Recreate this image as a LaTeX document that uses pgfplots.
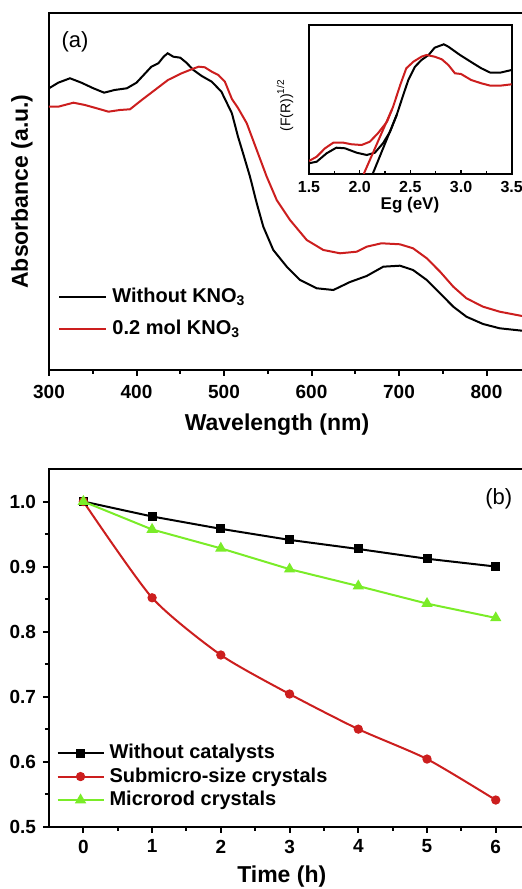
\documentclass[border=0pt]{standalone}
\usepackage{fontspec}
\setmainfont{Liberation Sans}
\usepackage{pgfplots}
\pgfplotsset{compat=1.18}
\definecolor{specred}{RGB}{204,30,30}
\definecolor{limegreen}{RGB}{122,236,40}

\pgfplotsset{
  panel/.style={
    scale only axis,
    axis line style={line width=1.1pt},
    tick align=outside,
    tick pos=left,
    major tick length=3pt,
    minor tick length=2pt,
    every tick/.append style={black,line width=1pt},
    tick label style={font=\fontsize{9.5}{11}\selectfont\bfseries},
    /pgf/number format/assume math mode=true,
    label style={font=\fontsize{11.5}{13}\selectfont\bfseries},
    legend cell align=left,
  },
}

\begin{document}
\begin{tikzpicture}
% (a) absorbance spectra
\begin{axis}[panel,
  at={(24.5pt,259.5pt)}, anchor=south west,
  width=238.5pt, height=178.5pt,
  xmin=300, xmax=845.1, ymin=0, ymax=357,
  xtick={300,400,500,600,700,800}, minor x tick num=1,
  ytick=\empty,
  xticklabel style={yshift=-1pt},
  xlabel={Wavelength (nm)},
  ylabel={Absorbance (a.u.)},
  xlabel style={at={(axis description cs:0.478,-0.154)},anchor=center},
  ylabel style={at={(axis description cs:-0.057,0.5)},anchor=center},
  legend style={at={(axis description cs:0.019,0.235)},anchor=north west,
    draw=none,fill=none,inner sep=0pt,row sep=5pt,
    font=\fontsize{10}{12}\selectfont\bfseries,
    nodes={inner xsep=2.5pt,inner ysep=1pt}},
  legend image code/.code={\draw[#1] (0pt,0pt) -- (23.5pt,0pt);},
]
\addplot[black,line width=1pt] coordinates {
 (300,281.7) (310.6,287.3) (324,291.7) (337,287.3) (350.7,281.7) (363,277.3)
 (375,280) (389,281.7) (400,287.3) (410,296.7) (417,303.3) (425,306.7)
 (431,313.3) (435.6,316.7) (442,313.3) (450,312.3) (457,307.3) (465,300)
 (474.5,294) (486,288.3) (497,278.3) (509,256.7) (516,233.3) (522,216)
 (529.7,193.3) (537.4,166.7) (544.9,143.3) (556.3,120) (571.7,103.3)
 (586.9,90) (606,81.7) (625,80) (644,88) (663,94) (682,103.3) (701,104.3)
 (716,100) (731.7,90) (746.9,76.7) (762,63.3) (777,53.3) (796,46)
 (815,41.7) (840.6,39.3)};
\addlegendentry{Without KNO\textsubscript{3}}
\addplot[specred,line width=1pt] coordinates {
 (300,263.3) (310.6,263.3) (328,267.3) (341,265) (354.5,261.7) (368,258.3)
 (381,260) (392.6,260.7) (406,270) (421,280) (436,290) (451.6,296.7)
 (463,300.7) (471,303.3) (478,302.7) (486,298.3) (493.5,295) (501,288.3)
 (509,271) (516,262) (526,246.7) (537.4,220) (548.8,193.3) (560.2,170)
 (575.4,150) (594.5,130) (613.5,120) (632.6,116.7) (651.7,118.3)
 (663,123.3) (680,126.7) (701,125.7) (716,121.7) (731.7,111.7)
 (746.9,98.3) (762,83.3) (777,71.7) (796,63.3) (815,58.3) (840.6,54)};
\addlegendentry{0.2 mol KNO\textsubscript{3}}
\node[font=\fontsize{11}{13}\selectfont] at (rel axis cs:0.0545,0.919) {(a)};
\end{axis}

% inset: Tauc plot
\begin{axis}[
  scale only axis,
  at={(154.5pt,357.5pt)}, anchor=south west,
  width=101.35pt, height=74.5pt,
  xmin=1.5, xmax=3.5, ymin=0, ymax=149,
  axis background/.style={fill=white},
  axis line style={line width=1pt},
  tick align=inside, xtick pos=left,
  major tick length=2pt, minor tick length=1.5pt,
  every tick/.append style={black,line width=0.8pt},
  xtick={1.5,2.0,2.5,3.0,3.5}, minor x tick num=1,
  ytick=\empty,
  xticklabel style={font=\fontsize{8}{9}\selectfont\bfseries,
    /pgf/number format/.cd,fixed,fixed zerofill,precision=1},
  /pgf/number format/assume math mode=true,
  xlabel={Eg (eV)},
  ylabel={(F(R))\textsuperscript{1/2}},
  xlabel style={font=\fontsize{8.5}{10}\selectfont\bfseries,
    at={(axis description cs:0.498,-0.212)},anchor=center},
  ylabel style={font=\fontsize{7}{8}\selectfont,
    at={(axis description cs:-0.118,0.46)},anchor=center},
]
\addplot[black,line width=1pt] coordinates {
 (1.5,10.7) (1.576,12.3) (1.674,20.7) (1.77,26.3) (1.855,25.7) (1.97,21.3)
 (2.07,19) (2.15,21.3) (2.23,30.7) (2.30,42.3) (2.365,59) (2.43,79)
 (2.48,94) (2.546,107.3) (2.61,114) (2.68,119) (2.74,126.3) (2.83,129.7)
 (2.875,127.3) (2.99,119) (3.12,110.7) (3.20,105.7) (3.29,101.3)
 (3.385,101.3) (3.5,104)};
\addplot[specred,line width=1pt] coordinates {
 (1.5,13) (1.576,17.3) (1.658,25.7) (1.74,31.3) (1.84,31.3) (1.92,29.7)
 (2.02,29) (2.10,32.3) (2.18,40.7) (2.27,52.3) (2.33,67.3) (2.40,89)
 (2.46,105.7) (2.53,112.3) (2.61,117.3) (2.66,119) (2.74,117.3)
 (2.81,114.7) (2.875,109) (2.94,100.7) (3.0,100) (3.10,94) (3.20,90.7)
 (3.29,88.3) (3.385,88.3) (3.5,89.7)};
% tangent lines for the band-gap extrapolation
\addplot[black,line width=1pt] coordinates {(2.128,0) (2.365,59)};
\addplot[specred,line width=1pt] coordinates {(2.04,0) (2.316,64)};
\end{axis}

% (b) degradation vs time
\begin{axis}[panel,
  at={(24.5pt,31.15pt)}, anchor=south west,
  width=238.5pt, height=178.85pt,
  xmin=-0.5, xmax=6.44, ymin=0.5, ymax=1.05,
  xtick={0,1,2,3,4,5,6}, minor x tick num=1,
  ytick={0.5,0.6,0.7,0.8,0.9,1.0}, minor y tick num=1,
  yticklabel style={/pgf/number format/.cd,fixed,fixed zerofill,precision=1},
  xlabel={Time (h)},
  xlabel style={at={(axis description cs:0.488,-0.14)},anchor=center},
  legend style={at={(axis description cs:0.015,0.237)},anchor=north west,
    draw=none,fill=none,inner sep=0pt,row sep=1pt,
    font=\fontsize{10}{12}\selectfont\bfseries,
    nodes={inner xsep=2.5pt,inner ysep=1pt}},
  legend image code/.code={\draw[#1,mark repeat=2,mark phase=2]
    plot coordinates {(0pt,0pt) (11.5pt,0pt) (23pt,0pt)};},
]
\addplot[black,line width=1pt,mark=square*,mark size=1.75pt] coordinates {
 (0,1.0) (1,0.977) (2,0.958) (3,0.941) (4,0.927) (5,0.912) (6,0.900)};
\addlegendentry{Without catalysts}
\addplot[specred,line width=1pt,smooth,tension=0.4,mark=*,mark size=1.8pt] coordinates {
 (0,1.0) (1,0.852) (2,0.764) (3,0.704) (4,0.650) (5,0.604) (6,0.541)};
\addlegendentry{Submicro-size crystals}
\addplot[limegreen,line width=1pt,mark=triangle*,mark size=2.3pt] coordinates {
 (0,1.0) (1,0.957) (2,0.928) (3,0.896) (4,0.870) (5,0.843) (6,0.821)};
\addlegendentry{Microrod crystals}
\node[font=\fontsize{11}{13}\selectfont] at (rel axis cs:0.943,0.916) {(b)};
\end{axis}

\pgfresetboundingbox
\path (0pt,0pt) rectangle (261pt,444.5pt);
\end{tikzpicture}
\end{document}
